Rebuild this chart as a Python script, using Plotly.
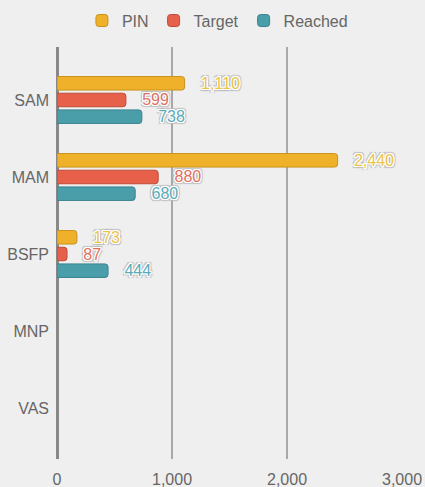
import plotly.graph_objects as go

categories = ["SAM", "MAM", "BSFP", "MNP", "VAS"]
pin = [1110, 2440, 173, None, None]
target = [599, 880, 87, None, None]
reached = [738, 680, 444, None, None]
series_names = ["PIN", "Target", "Reached"]
x_ticks = [0, 1000, 2000, 3000]

colors = ["#F0B12A", "#E6604A", "#4A9EAA"]
edges = ["#C9921A", "#C04A38", "#3A8290"]
text_colors = ["#EBC34A", "#E0705E", "#5AAAB8"]

FONT = "Arial, Liberation Sans, sans-serif"
halo = ("1px 1px 0 #fff, -1px -1px 0 #fff, 1px -1px 0 #fff, -1px 1px 0 #fff, "
        "0 1px 0 #fff, 0 -1px 0 #fff, 1px 0 0 #fff, -1px 0 0 #fff, "
        "2px 2px 1px #bbb, -2px -2px 1px #bbb, 2px -2px 1px #bbb, -2px 2px 1px #bbb")

fig = go.Figure()
for name, vals, c, e, tc in zip(series_names, [pin, target, reached], colors, edges, text_colors):
    fig.add_trace(go.Bar(
        name=name, y=categories, x=vals, orientation="h",
        marker=dict(color=c, line=dict(color=e, width=1)),
        text=[("\u00a0\u00a0\u00a0" + f"{v:,}") if v is not None else "" for v in vals],
        textposition="outside", cliponaxis=False, constraintext="none",
        textfont=dict(family=FONT, size=16, color=tc, shadow=halo),
        hoverinfo="skip",
    ))

fig.update_layout(
    width=425, height=487,
    paper_bgcolor="#EFEFEF", plot_bgcolor="#EFEFEF",
    margin=dict(l=57, r=23, t=47, b=28, autoexpand=False),
    barmode="group", bargap=0.35, bargroupgap=0.19, barcornerradius=3,
    font=dict(family=FONT, size=16, color="#666666"),
    showlegend=True,
    legend=dict(orientation="h", x=0.465, xanchor="center", y=1.064, yanchor="middle",
                font=dict(size=16, color="#666666"), bgcolor="rgba(0,0,0,0)"),
)
fig.update_xaxes(
    range=[0, 3000], tickvals=x_ticks, tickformat=",",
    showgrid=True, gridcolor="#A8A8A8", gridwidth=1.5,
    zeroline=True, zerolinecolor="#888888", zerolinewidth=2.5,
    showline=False, ticks="", ticklabelstandoff=9, automargin=False,
    tickfont=dict(size=16, color="#666666"), fixedrange=True,
)
fig.update_yaxes(
    categoryorder="array", categoryarray=categories,
    range=[4.662, -0.688], showgrid=False, zeroline=False, showline=False,
    ticks="", ticklabelstandoff=7, automargin=False,
    tickfont=dict(size=16, color="#666666"),
    fixedrange=True,
)
fig.write_html("out.html", config={"displayModeBar": False},
               post_script="document.body.style.margin='0';document.body.style.background='#EFEFEF';")
